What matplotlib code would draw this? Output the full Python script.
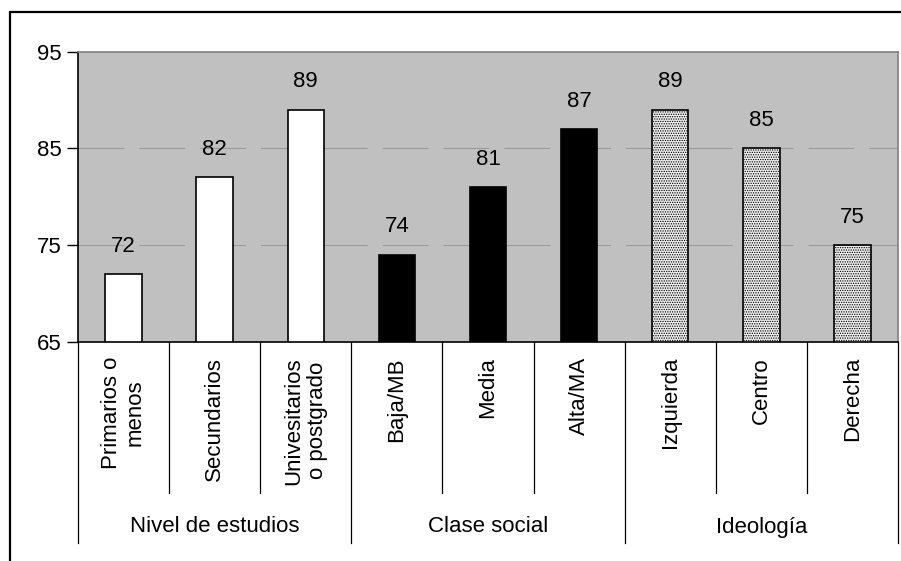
import matplotlib
matplotlib.use("Agg")
import matplotlib.pyplot as plt
import matplotlib.transforms as mtransforms
from matplotlib.patches import Rectangle
import numpy as np

plt.rcParams['font.family'] = ['Liberation Sans', 'DejaVu Sans']
plt.rcParams['hatch.linewidth'] = 0.6
plt.rcParams['hatch.color'] = '#303030'

# data
groups = ["Nivel de estudios", "Clase social", "Ideología"]
categories = ["Primarios o\nmenos", "Secundarios", "Univesitarios\no postgrado",
              "Baja/MB", "Media", "Alta/MA",
              "Izquierda", "Centro", "Derecha"]
values = [72, 82, 89, 74, 81, 87, 89, 85, 75]
group_of = [0, 0, 0, 1, 1, 1, 2, 2, 2]

W, H = 901, 561
fig = plt.figure(figsize=(W / 100, H / 100), dpi=100)

# outer frame (right and bottom edges fall outside the picture)
fig.patches.append(Rectangle((10 / W, -0.1), 1.2, 1 - 12 / H + 0.1,
                             transform=fig.transFigure, fill=False,
                             edgecolor='black', linewidth=1.6))

ax_l, ax_r, ax_t, ax_b = 78, 898, 51.7, 341.7
ax = fig.add_axes([ax_l / W, 1 - ax_b / H, (ax_r - ax_l) / W, (ax_b - ax_t) / H])
ax.set_facecolor('#c0c0c0')

x = np.arange(len(values))
styles = [dict(facecolor='white', hatch=None),
          dict(facecolor='black', hatch=None),
          dict(facecolor='#ececec', hatch='.......')]
for i, v in enumerate(values):
    st = styles[group_of[i]]
    ax.bar(x[i], v - 65, bottom=65, width=0.4, facecolor=st['facecolor'],
           hatch=st['hatch'], edgecolor='black', linewidth=1.2, zorder=3)
    ax.annotate(str(v), (x[i], v), xytext=(0, 12.5), textcoords='offset points',
                ha='center', va='bottom', fontsize=16, zorder=4)

for yv in [75, 85]:
    ax.axhline(yv, color='#999999', linewidth=0.75,
               linestyle=(0, (44, 14.4)), zorder=1)

ax.set_xlim(-0.5, len(values) - 0.5)
ax.set_ylim(65, 95)
ax.set_yticks([65, 75, 85, 95])
ax.tick_params(axis='y', length=8, width=1, labelsize=16, pad=4)
ax.tick_params(axis='x', bottom=False, labelbottom=False)

for side in ['top', 'right']:
    ax.spines[side].set_color('#808080')
    ax.spines[side].set_linewidth(1.2)
for side in ['left', 'bottom']:
    ax.spines[side].set_color('black')
    ax.spines[side].set_linewidth(1.2)

# category axis: separators and labels below the plot
ax_h = ax_b - ax_t
def ypix(py):
    return (ax_b - py) / ax_h

trans = mtransforms.blended_transform_factory(ax.transData, ax.transAxes)
for k in range(len(values) + 1):
    xb = k - 0.5
    end = 543 if k % 3 == 0 else 493
    ax.plot([xb, xb], [0, ypix(end)], color='black', linewidth=0.9,
            transform=trans, clip_on=False)

for i, lab in enumerate(categories):
    ax.text(x[i], ypix(357), lab, rotation=90, ha='center', va='top',
            multialignment='center', fontsize=16, linespacing=1.15,
            transform=trans)

for g, name in enumerate(groups):
    ax.text(3 * g + 1, ypix(527), name, ha='center', va='center',
            fontsize=16, transform=trans)

fig.savefig('out.png', dpi=100)
